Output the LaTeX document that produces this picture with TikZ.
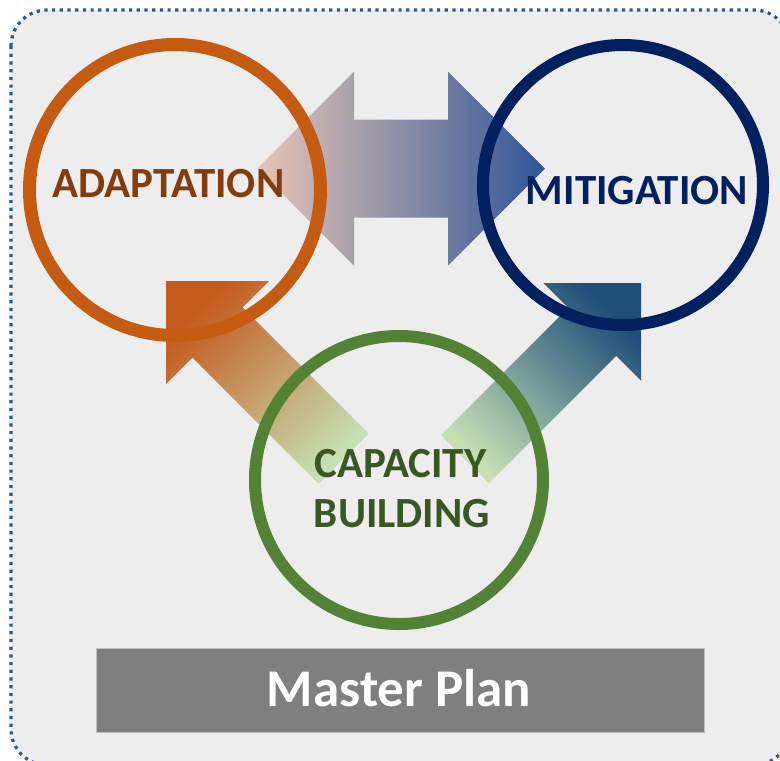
\documentclass[tikz,border=0pt]{standalone}
\usepackage{fontspec}
\setmainfont{Carlito}
\definecolor{bgGray}{HTML}{EDEDED}
\definecolor{frameBlue}{HTML}{2F5597}
\definecolor{adaptRing}{HTML}{C55A11}
\definecolor{adaptText}{HTML}{843C0C}
\definecolor{mitiRing}{HTML}{002060}
\definecolor{capRing}{HTML}{548235}
\definecolor{capText}{HTML}{385723}
\definecolor{planGray}{HTML}{7F7F7F}
\definecolor{peach}{HTML}{E8C6B6}
\definecolor{mauve}{HTML}{A48BA9}
\definecolor{blueTip}{HTML}{2F5597}
\definecolor{orangeTip}{HTML}{C55A1E}
\definecolor{navyTip}{HTML}{1F4E79}
\definecolor{paleGreen}{HTML}{C5E0B4}
\tikzset{
  ring/.style={circle, draw=#1, line width=13pt, inner sep=0pt},
  label/.style={font=\bfseries\fontsize{43}{50}\selectfont, anchor=base},
}
\begin{document}
\begin{tikzpicture}[x=1pt, y=-1pt]
		\useasboundingbox (0,0) rectangle (780,761);
		\draw[frameBlue, fill=bgGray, line width=3.2pt, dash pattern=on 3.2pt off 4.5pt, rounded corners=36pt] (11,10) rectangle (790,765);
		% double arrow
		\coordinate (L) at (257,168.5);
		\coordinate (R) at (545,168.5);
		\shade[left color=peach, middle color=mauve, right color=blueTip] (L) -- (354,71.5) -- (354,119.5) -- (448,119.5) -- (448,71.5) -- (R) -- (448,265.5) -- (448,217.5) -- (354,217.5) -- (354,265.5) -- cycle;
		% arrow to adaptation
		\coordinate (TA) at (166,281);
		\shade[top color=orangeTip, middle color=orangeTip!40!paleGreen, bottom color=paleGreen, shading angle=45] (TA) -- (269.2,281) -- (242.7,307.5) -- (368.6,433.4) -- (318.4,483.6) -- (192.5,357.7) -- (166,384.2) -- cycle;
		% arrow to mitigation
		\coordinate (TM) at (641,283);
		\shade[top color=navyTip, middle color=navyTip!40!paleGreen, bottom color=paleGreen, shading angle=-45] (TM) -- (641,380.6) -- (616.2,355.8) -- (488.9,483.1) -- (440.9,435.1) -- (568.2,307.8) -- (543.4,283) -- cycle;
		% circles
		\node[ring=adaptRing, minimum size=291pt] (adapt) at (175,190) {};
		\node[ring=mitiRing, line width=12pt, minimum size=280pt] (miti) at (623,185) {};
		\node[ring=capRing, line width=12pt, minimum size=288pt] (cap) at (399,480) {};
		\node[label, text=adaptText] (adaptT) at (168.5,197) {ADAPTATION};
		\node[label, text=mitiRing] (mitiT) at (637,204) {MITIGATION};
		\node[label, text=capText] (capT) at (400.5,477) {CAPACITY};
		\node[label, text=capText] (bldT) at (402,527) {BUILDING};
		% master plan
		\draw[fill=planGray, draw=black!25, line width=0.8pt] (96,648) rectangle (704,732);
		\node[font=\bfseries\fontsize{53}{60}\selectfont, text=white, anchor=base] (plan) at (399,706) {Master Plan};
	\end{tikzpicture}
\end{document}
